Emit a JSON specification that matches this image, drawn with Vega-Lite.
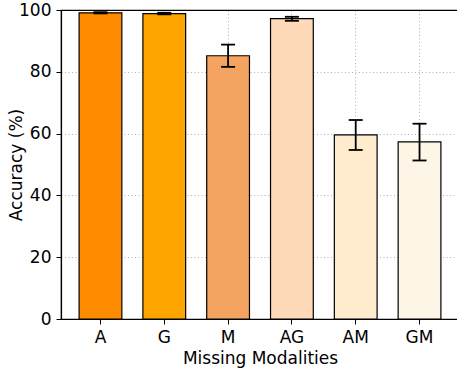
{
  "$schema": "https://vega.github.io/schema/vega-lite/v6.json",
  "autosize": "none",
  "padding": {"left": 61, "top": 10, "right": 0, "bottom": 52},
  "width": 398,
  "height": 309,
  "config": {
    "font": "DejaVu Sans",
    "view": {"stroke": "black", "strokeWidth": 1.2},
    "axis": {
      "labelFont": "DejaVu Sans",
      "titleFont": "DejaVu Sans",
      "labelFontSize": 17,
      "titleFontSize": 17,
      "titleFontWeight": "normal",
      "labelColor": "black",
      "titleColor": "black",
      "domainColor": "black",
      "tickColor": "black",
      "tickSize": 5,
      "tickWidth": 1,
      "domainWidth": 1.2,
      "gridColor": "#b0b0b0",
      "gridDash": [1, 2.5],
      "gridWidth": 1
    }
  },
  "data": {
    "values": [
      {"mod": "A", "acc": 99.1, "lo": 98.9, "hi": 99.3},
      {"mod": "G", "acc": 98.8, "lo": 98.6, "hi": 99.1},
      {"mod": "M", "acc": 85.2, "lo": 81.6, "hi": 88.8},
      {"mod": "AG", "acc": 97.2, "lo": 96.5, "hi": 97.8},
      {"mod": "AM", "acc": 59.6, "lo": 54.7, "hi": 64.4},
      {"mod": "GM", "acc": 57.3, "lo": 51.3, "hi": 63.2}
    ]
  },
  "encoding": {
    "x": {
      "field": "mod",
      "type": "nominal",
      "sort": null,
      "scale": {"paddingInner": 0.33, "paddingOuter": 0.2835},
      "axis": {"title": "Missing Modalities", "labelAngle": 0, "labelPadding": 5, "titlePadding": 5, "grid": true, "bandPosition": 0.5, "domain": true}
    }
  },
  "layer": [
    {
      "mark": {"type": "bar", "stroke": "black", "strokeWidth": 1.2},
      "encoding": {
        "y": {
          "field": "acc",
          "type": "quantitative",
          "scale": {"domain": [0, 100], "nice": false},
          "axis": {
            "title": "Accuracy (%)",
            "values": [0, 20, 40, 60, 80, 100],
            "labelPadding": 5,
            "titlePadding": -7,
            "grid": true,
            "gridColor": {"condition": {"test": "datum.value === 100", "value": "black"}, "value": "#b0b0b0"},
            "gridDash": {"condition": {"test": "datum.value === 100", "value": []}, "value": [1, 2.5]},
            "gridWidth": {"condition": {"test": "datum.value === 100", "value": 1.2}, "value": 1}
          }
        },
        "fill": {
          "field": "mod",
          "type": "nominal",
          "sort": null,
          "scale": {"domain": ["A", "G", "M", "AG", "AM", "GM"], "range": ["#FF8C00", "#FFA500", "#F4A460", "#FFDAB9", "#FFEBCD", "#FDF5E6"]},
          "legend": null
        }
      }
    },
    {
      "mark": {"type": "rule", "color": "black", "strokeWidth": 1.8, "opacity": 1},
      "encoding": {
        "y": {"field": "lo", "type": "quantitative"},
        "y2": {"field": "hi"}
      }
    },
    {
      "mark": {"type": "tick", "color": "black", "thickness": 1.8, "size": 14, "orient": "horizontal", "opacity": 1},
      "encoding": {"y": {"field": "lo", "type": "quantitative"}}
    },
    {
      "mark": {"type": "tick", "color": "black", "thickness": 1.8, "size": 14, "orient": "horizontal", "opacity": 1},
      "encoding": {"y": {"field": "hi", "type": "quantitative"}}
    }
  ]
}
